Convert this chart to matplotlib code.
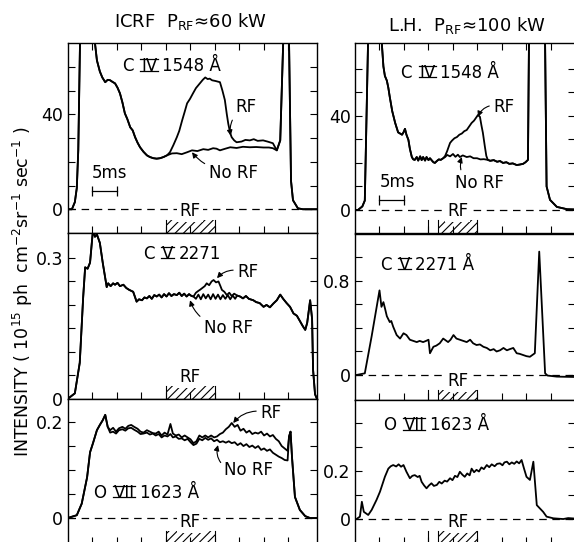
import matplotlib
matplotlib.use("Agg")
import matplotlib.pyplot as plt
from matplotlib.patches import Rectangle
from matplotlib.lines import Line2D
from matplotlib.transforms import IdentityTransform

# ---------------- data (time in ms, intensity in panel units) ----------------
# C IV 1548 A, ICRF
civ_icrf_t_pre = [0, 0.9, 1.5, 1.9, 2.2, 2.55, 3.5, 4.5, 5.6, 6.0, 6.6, 7.1, 7.7, 8.2, 8.7, 9.2, 9.7, 10.2,
                  10.7, 11.2, 11.7, 12.2, 12.8, 13.3, 13.8, 14.3, 14.8, 15.5, 16.2, 16.8, 17.5, 18.2, 18.9,
                  19.6, 20.3]
civ_icrf_v_pre = [0, 0, 3, 9, 25, 70, 110, 110, 70, 62.7, 58, 55.5, 53.5, 54.5, 54.3, 53.6, 53, 51.2,
                  48.8, 45, 40.4, 38, 34.5, 33.2, 30.3, 28, 26.1, 24.2, 22.7, 22.0, 21.5, 21.3, 21.5,
                  22, 22.7]
civ_icrf_t_rf = [20.9, 21.6, 22.3, 22.8, 23.4, 23.9, 24.4, 25.0, 25.6, 26.2, 27.0, 27.6, 28.1, 28.6, 29.0,
                 29.5, 30.2, 31.1, 31.6, 32.1, 32.5, 32.8, 33.2, 33.5, 34.0, 34.5, 35.5, 36.3, 37.2, 38.0,
                 38.8, 39.9, 40.8, 41.9]
civ_icrf_v_rf = [24, 27, 30.3, 33, 37.5, 41, 44.6, 46.5, 48.8, 51, 53, 54.5, 55.5, 54.8, 55, 54.3, 54,
                 53.5, 50, 46, 40, 36, 32, 30.3, 29, 28.2, 28.5, 29.2, 29, 29.5, 28.8, 29, 28.5, 27.8]
civ_icrf_t_norf = [21.3, 22.3, 23.3, 24.4, 25.4, 26.5, 27.7, 28.7, 29.7, 30.4, 31.1, 32.2, 33.2, 34.5,
                   35.8, 37.2, 38.5, 40.0, 41.1, 41.9]
civ_icrf_v_norf = [23.5, 23.6, 23.2, 24, 24.8, 24.5, 25.3, 25, 25.7, 25.5, 24.8, 25.5, 26.1, 25.8, 26.3,
                   26.1, 26.2, 26, 26, 25.7]
civ_icrf_t_post = [42.7, 43.4, 44.0, 44.6, 45.2, 45.6, 46.0, 47.0, 48.0, 50.9]
civ_icrf_v_post = [24.8, 29, 70, 110, 70, 12, 3.8, 0.4, 0, 0]

# C IV 1548 A, L.H.
civ_lh_t_pre = [0, 0.6, 1.5, 2.0, 2.65, 3.5, 4.5, 5.5, 5.8, 6.1, 6.5, 6.8, 7.1, 7.6, 8.2, 8.8, 9.2, 9.6,
                9.9, 10.2, 10.5, 10.9, 11.2, 11.6, 11.9, 12.2, 12.6, 12.9, 13.3, 13.6, 13.9, 14.3, 14.6,
                15.0, 15.3, 15.7, 16.0, 16.3, 16.7, 17.1, 17.5, 18.0]
civ_lh_v_pre = [0, 0, 1.5, 4, 70, 110, 110, 70, 61, 57, 55, 52, 48, 42, 37, 33, 32.5, 32, 33, 34.5, 32,
                29.8, 26, 22.5, 21.5, 21.3, 22.5, 21, 22.8, 21.2, 22.5, 21, 22.5, 21.2, 22, 21, 20.3, 20,
                20.8, 21.5, 21.3, 22]
civ_lh_t_rf = [18.4, 18.8, 19.4, 19.8, 20.3, 20.8, 21.3, 21.8, 22.3, 22.8, 23.3, 23.8, 24.3, 24.8, 25.1,
               25.5, 25.8, 26.1, 26.5, 26.8, 27.1]
civ_lh_v_rf = [23, 25, 28.5, 29.5, 30.5, 31, 32, 32.5, 33.5, 34, 35.5, 37, 38, 39.5, 40.4, 39.6, 36, 32.8,
               27, 23, 21.3]
civ_lh_t_norf = [18.4, 18.8, 19.4, 20.0, 20.5, 21.0, 21.4, 22.0, 22.8, 23.5, 24.2, 24.9, 25.6, 26.3, 27.1]
civ_lh_v_norf = [22.5, 23.4, 22.8, 23.8, 22.6, 23.5, 22.5, 23.2, 22.5, 22.8, 22, 22, 21.5, 21.6, 21.3]
civ_lh_t_post = [27.6, 28.3, 29.0, 29.6, 30.2, 30.9, 31.5, 32.2, 33.0, 33.6, 34.3, 34.8, 35.3, 35.5, 36.5,
                 38.0, 38.8, 39.1, 39.8, 41.2, 43.3, 44.9]
civ_lh_v_post = [20.9, 21.2, 20.5, 20.8, 20, 20.3, 19.6, 19.8, 19.1, 19.3, 19.6, 20.3, 21.3, 70, 110, 110,
                 70, 10, 4.3, 1.3, 0.3, 0.2]

# C V 2271 A, ICRF
cv_icrf_t_pre = [0, 1.5, 2.5, 3.2, 3.6, 4.1, 4.6, 5.2, 5.6, 6.0, 6.6, 7.2, 8.0, 8.3, 8.8, 9.3, 9.7, 10.2,
                 10.7, 11.4, 12.0, 12.6, 13.4, 14.1, 14.6, 15.2, 15.7, 16.2, 16.7, 17.2, 17.7, 18.2, 18.7,
                 19.2, 19.7, 20.2, 20.7, 21.2, 21.7, 22.3, 22.8, 23.3, 23.8, 24.3, 24.8, 25.3, 25.7]
cv_icrf_v_pre = [0, 0.012, 0.077, 0.217, 0.28, 0.277, 0.29, 0.36, 0.345, 0.35, 0.332, 0.289, 0.238,
                 0.246, 0.24, 0.246, 0.243, 0.247, 0.24, 0.243, 0.236, 0.232, 0.228, 0.207, 0.212, 0.21,
                 0.216, 0.214, 0.219, 0.213, 0.221, 0.218, 0.222, 0.216, 0.223, 0.218, 0.225, 0.219,
                 0.223, 0.221, 0.226, 0.219, 0.224, 0.218, 0.223, 0.219, 0.218]
cv_icrf_t_rf = [26.2, 26.7, 27.0, 27.5, 28.0, 28.4, 28.9, 29.4, 29.8, 30.3, 30.8, 31.2, 31.5, 32.0, 32.5,
                33.0, 33.5, 34.0, 34.6]
cv_icrf_v_rf = [0.226, 0.23, 0.232, 0.236, 0.24, 0.246, 0.242, 0.25, 0.253, 0.248, 0.25, 0.24, 0.232,
                0.228, 0.221, 0.226, 0.219, 0.224, 0.22]
cv_icrf_t_norf = [26.2, 26.7, 27.2, 27.7, 28.2, 28.7, 29.2, 29.7, 30.2, 30.7, 31.2, 31.7, 32.2, 32.7,
                  33.2, 33.7, 34.2, 34.6]
cv_icrf_v_norf = [0.213, 0.222, 0.212, 0.223, 0.214, 0.222, 0.212, 0.223, 0.213, 0.222, 0.212, 0.221,
                  0.213, 0.221, 0.212, 0.22, 0.213, 0.22]
cv_icrf_t_post = [35.2, 35.8, 36.4, 37.0, 37.9, 38.5, 39.2, 40.0, 40.6, 41.3, 42.0, 42.7, 43.4, 44.0,
                  44.7, 45.4, 46.1, 46.8, 47.4, 48.0, 48.5, 48.9, 49.5, 49.9, 50.1, 50.5, 50.9]
cv_icrf_v_post = [0.218, 0.214, 0.219, 0.213, 0.21, 0.206, 0.204, 0.196, 0.2, 0.195, 0.203, 0.21, 0.222,
                  0.213, 0.204, 0.196, 0.182, 0.177, 0.166, 0.155, 0.147, 0.162, 0.21, 0.17, 0.062, 0.01, 0]

# C V 2271 A, L.H.
cv_lh_t = [0, 0.3, 2.0, 3.4, 5.0, 5.4, 5.8, 6.1, 6.5, 7.1, 7.4, 7.8, 8.5, 9.2, 9.9, 10.5, 11.2, 11.9, 12.6,
           13.2, 13.9, 14.5, 15.0, 15.3, 16.0, 16.6, 17.3, 18.0, 19.0, 19.5, 20.1, 20.7, 21.4, 22.1, 22.8,
           23.5, 24.1, 24.8, 25.5, 26.2, 26.9, 27.6, 28.3, 28.9, 29.6, 30.3, 31.0, 31.6, 32.3, 33.0, 33.6,
           34.3, 35.0, 35.7, 36.7, 37.6, 38.8, 39.3, 41.2, 44.9]
cv_lh_v = [0, 0, 0.014, 0.33, 0.72, 0.58, 0.62, 0.57, 0.5, 0.45, 0.46, 0.41, 0.34, 0.31, 0.355, 0.34, 0.3,
           0.29, 0.28, 0.29, 0.28, 0.29, 0.3, 0.185, 0.24, 0.25, 0.27, 0.31, 0.28, 0.3, 0.34, 0.31, 0.3,
           0.29, 0.28, 0.3, 0.27, 0.255, 0.26, 0.24, 0.23, 0.21, 0.22, 0.2, 0.21, 0.23, 0.21, 0.22, 0.23,
           0.185, 0.18, 0.17, 0.16, 0.155, 0.185, 1.05, 0.014, -0.005, -0.014, -0.017]

# O VII 1623 A, ICRF
ovii_icrf_t_pre = [0, 1.9, 2.9, 4.0, 4.6, 5.2, 6.0, 6.6, 7.2, 7.7, 8.2]
ovii_icrf_v_pre = [0, 0.006, 0.03, 0.085, 0.137, 0.156, 0.183, 0.194, 0.204, 0.215, 0.19]
ovii_icrf_t_mid = [8.7, 9.3, 9.9, 10.5, 11.2, 11.8, 12.4, 13.0, 13.6, 14.3, 14.9, 15.5, 16.2, 16.8, 17.4,
                   18.0, 18.6, 19.2, 19.8, 20.4, 21.0, 21.5, 22.1, 22.7, 23.3, 23.9, 24.5, 25.1, 25.7,
                   26.3, 26.9, 27.5, 28.1, 28.7, 29.3, 29.9, 30.5, 31.1, 31.7, 32.3, 32.9, 33.5, 34.1,
                   34.7, 35.3, 35.9, 36.5, 37.1, 37.7, 38.3, 38.9, 39.5, 40.1, 40.7, 41.3, 41.9, 42.5,
                   43.1, 43.7, 44.3, 44.9]
ovii_icrf_v_rf = [0.183, 0.188, 0.18, 0.187, 0.19, 0.186, 0.192, 0.194, 0.19, 0.186,
                  0.18, 0.178, 0.183, 0.18, 0.177, 0.176, 0.18, 0.172, 0.178, 0.174,
                  0.196, 0.176, 0.172, 0.174, 0.168, 0.172, 0.168, 0.164, 0.156, 0.16,
                  0.172, 0.168, 0.172, 0.168, 0.172, 0.168, 0.17, 0.175, 0.178, 0.185,
                  0.19, 0.198, 0.19, 0.194, 0.182, 0.186, 0.178, 0.182, 0.175, 0.178,
                  0.176, 0.18, 0.172, 0.176, 0.17, 0.173, 0.165, 0.16, 0.15, 0.145, 0.14]
ovii_icrf_v_norf = [0.178, 0.18, 0.176, 0.183, 0.185, 0.182, 0.187, 0.188, 0.184, 0.18,
                    0.175, 0.176, 0.178, 0.174, 0.176, 0.172, 0.175, 0.168, 0.172, 0.17,
                    0.175, 0.168, 0.17, 0.165, 0.166, 0.162, 0.165, 0.158, 0.152, 0.155,
                    0.165, 0.162, 0.167, 0.163, 0.166, 0.16, 0.163, 0.158, 0.16, 0.157,
                    0.16, 0.156, 0.158, 0.152, 0.156, 0.15, 0.154, 0.148, 0.151, 0.146,
                    0.15, 0.142, 0.145, 0.14, 0.143, 0.136, 0.132, 0.128, 0.125, 0.121, 0.12]
ovii_icrf_t_post = [45.2, 45.5, 45.8, 46.4, 47.4, 48.5, 49.5, 50.9]
ovii_icrf_v_post = [0.17, 0.18, 0.127, 0.044, 0.017, 0.004, 0, 0]

# O VII 1623 A, L.H.
ovii_lh_t = [0, 0.3, 1.0, 1.4, 1.8, 2.7, 3.4, 4.4, 5.1, 6.1, 6.8, 7.3, 7.8, 8.4, 8.9, 9.4, 9.9, 10.5, 11.2,
             11.7, 12.2, 12.8, 13.2, 13.6, 14.1, 14.6, 15.1, 15.6, 16.1, 16.7, 17.2, 17.7, 18.3, 18.8,
             19.4, 19.9, 20.4, 20.9, 21.4, 21.9, 22.4, 22.9, 23.4, 23.8, 24.3, 24.8, 25.3, 25.8, 26.3,
             26.9, 27.4, 27.9, 28.5, 29.0, 29.6, 30.1, 30.5, 31.0, 31.5, 32.0, 32.5, 33.0, 33.5, 34.0,
             34.5, 35.0, 35.7, 36.4, 37.1, 37.7, 38.4, 39.1, 40.5, 42.5, 43.5, 44.9]
ovii_lh_v = [0, 0, 0.01, 0.072, 0.03, 0.017, 0.038, 0.08, 0.114, 0.176,
             0.21, 0.22, 0.225, 0.219, 0.228, 0.218, 0.225, 0.197, 0.17, 0.18,
             0.183, 0.175, 0.18, 0.155, 0.14, 0.128, 0.14, 0.149, 0.138, 0.142,
             0.155, 0.148, 0.16, 0.156, 0.17, 0.162, 0.18, 0.175, 0.197, 0.185,
             0.176, 0.19, 0.182, 0.21, 0.195, 0.205, 0.198, 0.215, 0.208, 0.225,
             0.216, 0.228, 0.22, 0.23, 0.232, 0.224, 0.236, 0.239, 0.228, 0.236,
             0.23, 0.24, 0.232, 0.246, 0.21, 0.176, 0.163, 0.239, 0.058, 0.045,
             0.03, 0.01, 0.003, 0.0, 0.004, 0.002]

# RF pulse timing (ms) and ticks
rf_icrf = (20, 30)
rf_lh = (17, 25)
rf_lh_mark = 15
xticks_left = [5, 10, 15, 20, 25, 30, 35, 40, 45]
xticks_right = [5, 10, 15, 20, 25, 30, 35, 40]
scale_bar_ms = 5

titles = ["ICRF  P$_{\\mathregular{RF}}$≈60 kW", "L.H.  P$_{\\mathregular{RF}}$≈100 kW"]
# (element, roman numeral, wavelength text)
line_labels = [("C", "IV", "1548 Å"), ("C", "IV", "1548 Å"), ("C", "V", "2271"),
               ("C", "V", "2271 Å"), ("O", "VII", "1623 Å"), ("O", "VII", "1623 Å")]
ylabel = "INTENSITY ( 10$^{\\mathregular{15}}$ ph  cm$^{\\mathregular{-2}}$sr$^{\\mathregular{-1}}$ sec$^{\\mathregular{-1}}$ )"

# ---------------- figure ----------------
plt.rcParams['font.family'] = ['DejaVu Sans']
plt.rcParams['hatch.linewidth'] = 0.8

W, H = 574, 542
DPI = 100
fig = plt.figure(figsize=(W / DPI, H / DPI), dpi=DPI)
renderer = fig.canvas.get_renderer()


def add_ax(x0, x1, y0, y1):
    return fig.add_axes([x0 / W, 1 - y1 / H, (x1 - x0) / W, (y1 - y0) / H])


LX = (67.5, 317)
RX = (355, 575)
ax_tl = add_ax(*LX, 43, 233)
ax_ml = add_ax(*LX, 233, 399)
ax_bl = add_ax(*LX, 399, 544)
ax_tr = add_ax(*RX, 43, 233)
ax_mr = add_ax(*RX, 234, 400)
ax_br = add_ax(*RX, 400, 544)

LW = 1.3
FS = 12


def style(ax, xlim, ylim, yticks, ylabels, xticks, top):
    ax.set_xlim(xlim)
    ax.set_ylim(ylim)
    ax.set_yticks(yticks, labels=ylabels)
    ax.set_xticks(xticks, labels=[])
    ax.tick_params(axis='both', direction='in', length=5, width=0.8, labelsize=12.5, pad=3)
    ax.tick_params(axis='y', left=True, right=True)
    ax.tick_params(axis='x', top=top, bottom=True)
    for s in ax.spines.values():
        s.set_linewidth(1.0)


def zero_line(ax):
    ax.axhline(0, color='k', lw=0.9, ls=(0, (6, 4.5)), zorder=1.5)


def rf_marker(ax, span, extra=(), hpx=13):
    t0, t1 = span
    frac = hpx / ax.bbox.height
    tr = ax.get_xaxis_transform()
    ax.add_patch(Rectangle((t0, 0), t1 - t0, frac, transform=tr, fill=False, hatch='////',
                           lw=0, edgecolor='k', zorder=2))
    for t in (t0, t1) + tuple(extra):
        ax.plot([t, t], [0, frac], transform=tr, color='k', lw=0.8)
    ax.text((t0 + t1) / 2, frac, 'RF', transform=tr, ha='center', va='bottom', fontsize=FS,
            bbox=dict(boxstyle='square,pad=0.12', fc='white', ec='none'), zorder=3)


def arrow_label(ax, text, xy, xytext, rad, relpos=(0.5, 0.5)):
    ax.annotate(text, xy=xy, xytext=xytext, ha='center', va='center', fontsize=FS,
                arrowprops=dict(arrowstyle='-|>', color='k', lw=0.8, mutation_scale=8,
                                shrinkA=1, shrinkB=0, relpos=relpos,
                                connectionstyle=f'arc3,rad={rad}'))


def scale_bar(ax, y_bar, y_text):
    ax.plot([5, 5 + scale_bar_ms], [y_bar, y_bar], color='k', lw=0.9, marker='|',
            markersize=7, mew=0.9)
    ax.text(5, y_text, f'{scale_bar_ms}ms', ha='left', va='bottom', fontsize=FS)


def line_label(ax, x, y, parts):
    """Element, barred roman numeral and wavelength, placed at baseline (x, y) in data units."""
    elem, num, wav = parts
    idt = IdentityTransform()
    X, Y = ax.transData.transform((x, y))
    px = FS * DPI / 72.0
    t1 = fig.text(X, Y, elem, transform=idt, ha='left', va='baseline', fontsize=FS)
    x_num = t1.get_window_extent(renderer).x1 + 0.45 * px
    t2 = fig.text(x_num, Y, num, transform=idt, ha='left', va='baseline', fontsize=FS)
    bb = t2.get_window_extent(renderer)
    cap = 0.73 * px
    for yy in (Y + 0.5, Y + cap):
        fig.add_artist(Line2D([bb.x0 - 0.5, bb.x1 + 0.5], [yy, yy], transform=idt,
                              color='k', lw=0.9))
    fig.text(bb.x1 + 0.3 * px, Y, wav, transform=idt, ha='left', va='baseline', fontsize=FS)


# ---- top left: C IV ICRF
ax = ax_tl
style(ax, (0, 50.9), (-10, 70), [0, 10, 20, 30, 40, 50, 60], ['0', '', '', '', '40', '', ''],
      xticks_left, True)
zero_line(ax)
for tb, vb in [(civ_icrf_t_rf, civ_icrf_v_rf), (civ_icrf_t_norf, civ_icrf_v_norf)]:
    ax.plot(civ_icrf_t_pre + tb + civ_icrf_t_post, civ_icrf_v_pre + vb + civ_icrf_v_post,
            color='k', lw=LW)
rf_marker(ax, rf_icrf)
scale_bar(ax, 7.6, 11.5)
line_label(ax, 11.1, 58.1, line_labels[0])
arrow_label(ax, 'RF', (33.3, 31), (36.4, 43), 0.25, relpos=(0.1, 0.2))
arrow_label(ax, 'No RF', (25.4, 24), (33.8, 15.2), -0.15, relpos=(0.1, 0.8))

# ---- top right: C IV LH
ax = ax_tr
style(ax, (0, 44.9), (-9.8, 71), [0, 10, 20, 30, 40, 50, 60], ['0', '', '', '', '40', '', ''],
      xticks_right, True)
zero_line(ax)
for tb, vb in [(civ_lh_t_rf, civ_lh_v_rf), (civ_lh_t_norf, civ_lh_v_norf)]:
    ax.plot(civ_lh_t_pre + tb + civ_lh_t_post, civ_lh_v_pre + vb + civ_lh_v_post, color='k', lw=LW)
rf_marker(ax, rf_lh, extra=(rf_lh_mark,))
scale_bar(ax, 4.3, 8.2)
line_label(ax, 9.2, 56.2, line_labels[1])
arrow_label(ax, 'RF', (25.1, 39.6), (30.4, 43.8), 0.3, relpos=(0.0, 0.6))
arrow_label(ax, 'No RF', (21.8, 22.5), (25.5, 11.5), -0.2, relpos=(0.15, 0.9))

# ---- middle left: C V ICRF
ax = ax_ml
style(ax, (0, 50.9), (0, 0.353), [0, 0.05, 0.1, 0.15, 0.2, 0.25, 0.3],
      ['0', '', '', '', '', '', '0.3'], xticks_left, False)
for tb, vb in [(cv_icrf_t_rf, cv_icrf_v_rf), (cv_icrf_t_norf, cv_icrf_v_norf)]:
    ax.plot(cv_icrf_t_pre + tb + cv_icrf_t_post, cv_icrf_v_pre + vb + cv_icrf_v_post,
            color='k', lw=LW)
rf_marker(ax, rf_icrf)
line_label(ax, 15.4, 0.298, line_labels[2])
arrow_label(ax, 'RF', (30.5, 0.257), (36.8, 0.27), 0.25, relpos=(0.0, 0.6))
arrow_label(ax, 'No RF', (25.0, 0.21), (32.8, 0.151), -0.2, relpos=(0.1, 0.8))

# ---- middle right: C V LH
ax = ax_mr
style(ax, (0, 44.9), (-0.213, 1.2), [0, 0.2, 0.4, 0.6, 0.8, 1.0], ['0', '', '', '', '0.8', ''],
      xticks_right, False)
zero_line(ax)
ax.plot(cv_lh_t, cv_lh_v, color='k', lw=LW)
rf_marker(ax, rf_lh, extra=(rf_lh_mark,), hpx=10)
line_label(ax, 5.1, 0.894, line_labels[3])

# ---- bottom left: O VII ICRF
ax = ax_bl
style(ax, (0, 50.9), (-0.054, 0.248), [0, 0.05, 0.1, 0.15, 0.2], ['0', '', '', '', '0.2'],
      xticks_left, False)
zero_line(ax)
for vb in (ovii_icrf_v_rf, ovii_icrf_v_norf):
    ax.plot(ovii_icrf_t_pre + ovii_icrf_t_mid + ovii_icrf_t_post,
            ovii_icrf_v_pre + vb + ovii_icrf_v_post, color='k', lw=LW)
rf_marker(ax, rf_icrf)
line_label(ax, 5.2, 0.042, line_labels[4])
arrow_label(ax, 'RF', (33.8, 0.198), (41.5, 0.219), 0.25, relpos=(0.0, 0.6))
arrow_label(ax, 'No RF', (30.7, 0.152), (37.0, 0.1), -0.35, relpos=(0.05, 0.6))

# ---- bottom right: O VII LH
ax = ax_br
style(ax, (0, 44.9), (-0.104, 0.496), [0, 0.1, 0.2, 0.3, 0.4], ['0', '', '0.2', '', ''],
      xticks_right, False)
zero_line(ax)
ax.plot(ovii_lh_t, ovii_lh_v, color='k', lw=LW)
rf_marker(ax, rf_lh, extra=(rf_lh_mark,))
line_label(ax, 5.7, 0.371, line_labels[5])

# ---- titles / axis label
fig.text(191 / W, 1 - 22 / H, titles[0], ha='center', va='center', fontsize=13)
fig.text(467 / W, 1 - 25 / H, titles[1], ha='center', va='center', fontsize=13)
fig.text(23 / W, 1 - 292 / H, ylabel, rotation=90, ha='center', va='center', fontsize=12.5)

fig.savefig('out.png', dpi=DPI, facecolor='white')
